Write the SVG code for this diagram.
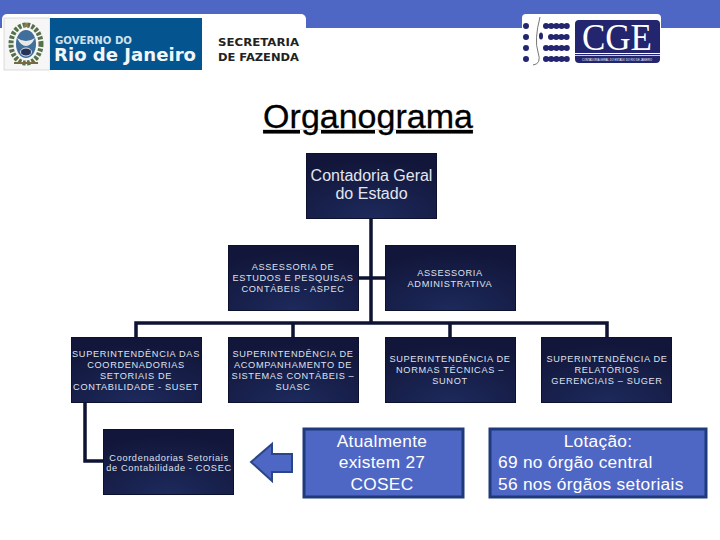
<svg xmlns="http://www.w3.org/2000/svg" width="720" height="540" viewBox="0 0 720 540">
<style>
text{font-family:"Liberation Sans",Arial,sans-serif;text-anchor:middle}
.n{fill:url(#ng);stroke:#0d1130;stroke-width:1}
.s{font-size:9.2px;fill:#dfe2ee;letter-spacing:.65px;font-weight:normal}
.m{font-size:16px;fill:#e4e6f0}
.b{fill:#4f67c4;stroke:#1f3a7c;stroke-width:3}
.w{font-size:17.3px;fill:#fff;letter-spacing:.3px}
.c{fill:none;stroke:#0e1233;stroke-width:3.5}
.d{fill:none;stroke:#23256e;stroke-width:6;stroke-linecap:round;stroke-dasharray:0 5.2}
.l{font-family:"DejaVu Sans",sans-serif;font-weight:bold;text-anchor:start}
</style>
<defs>
<radialGradient id="ng" cx=".5" cy="1" r=".9"><stop offset="0" stop-color="#1d2a5c"/><stop offset="1" stop-color="#12163a"/></radialGradient>
</defs>
<rect width="720" height="540" fill="#fff"/>
<rect id="banner" width="720" height="28" fill="#4f67c4"/>
<g id="logo-rj">
<rect x="2" y="14" width="304" height="58" rx="5" fill="#fff"/>
<rect x="4" y="18" width="46" height="52" fill="#f6f6f6" stroke="#bbb" stroke-width=".5"/>
<ellipse cx="26" cy="44" rx="15" ry="19" fill="none" stroke="#55704a" stroke-width="5" stroke-dasharray="3 1.500"/>
<ellipse cx="26" cy="44" rx="10" ry="14" fill="#3f6f9a"/>
<path d="M26 22l3 5h-6z" fill="#8a7a50"/>
<path d="M17 38Q26 44 35 38Q31 46 26 46T17 38Z" fill="#e8e8e8"/>
<ellipse cx="26" cy="52" rx="5.500" ry="4" fill="#25345c" stroke="#ddd" stroke-width="1"/>
<rect x="14" y="62" width="24" height="2" fill="#7a6a40"/>
<rect x="50" y="18" width="152" height="52" fill="#04548f"/>
<text class="l" x="55" y="43.500" font-size="10.500" fill="#cfe0ea" textLength="77" lengthAdjust="spacingAndGlyphs">GOVERNO DO</text>
<text class="l" x="54" y="60.500" font-size="17.500" fill="#f2f6f8" textLength="142" lengthAdjust="spacingAndGlyphs">Rio de Janeiro</text>
<text class="l" x="218" y="46" font-size="10.500" fill="#222" textLength="81" lengthAdjust="spacingAndGlyphs">SECRETARIA</text>
<text class="l" x="218" y="60.500" font-size="10.500" fill="#222" textLength="81" lengthAdjust="spacingAndGlyphs">DE FAZENDA</text>
</g>
<g id="logo-cge">
<rect x="522" y="14" width="139" height="50" rx="4" fill="#fff"/>
<path class="d" d="M526 26h5M526 37h5M526 48h5M526 59h5M546 26h22M551 37h17M546 48h22M546 59h22"/>
<ellipse cx="541" cy="36" rx="2" ry="3.500" fill="#23256e"/>
<rect x="575" y="20" width="85" height="43" rx="4" fill="#23256e"/>
<path d="M540 17Q534 40 538 52T533 65" fill="none" stroke="#777" stroke-width="1"/>
<text x="617" y="50" font-size="38" fill="#fff" style="font-family:'Liberation Serif',serif" textLength="70" lengthAdjust="spacingAndGlyphs">CGE</text>
<rect x="575" y="53" width="85" height="1" fill="#fff"/>
<rect x="575" y="55" width="85" height="1" fill="#ccd"/>
<text x="617" y="61" font-size="3.600" fill="#fff" textLength="70" lengthAdjust="spacingAndGlyphs">CONTADORIA GERAL DO ESTADO DO RIO DE JANEIRO</text>
</g>
<text id="title" x="368" y="128" font-size="34" fill="#000" stroke="#000" stroke-width=".3" text-decoration="underline">Organograma</text>
<g id="connectors">
<path class="c" d="M371 218V323M358 278H385M136 337V323H607V337M293 323V337M450 323V337M85 403V461H103"/>
</g>
<g id="contadoria"><rect class="n" x="306.500" y="153.500" width="130" height="65"/><text class="m" x="371.500" y="181">Contadoria Geral</text><text class="m" x="371.500" y="199">do Estado</text></g>
<g id="aspec"><rect class="n" x="228.500" y="245.500" width="130" height="65"/><text class="s" x="293" y="270">ASSESSORIA DE</text><text class="s" x="293" y="281">ESTUDOS E PESQUISAS</text><text class="s" x="293" y="292">CONTÁBEIS -  ASPEC</text></g>
<g id="admin"><rect class="n" x="385.500" y="245.500" width="130" height="65"/><text class="s" x="450" y="276">ASSESSORIA</text><text class="s" x="450" y="287">ADMINISTRATIVA</text></g>
<g id="suset"><rect class="n" x="71.500" y="337.500" width="130" height="65"/><text class="s" x="136" y="357">SUPERINTENDÊNCIA DAS</text><text class="s" x="136" y="368">COORDENADORIAS</text><text class="s" x="136" y="379">SETORIAIS DE</text><text class="s" x="136" y="390">CONTABILIDADE - SUSET</text></g>
<g id="suasc"><rect class="n" x="228.500" y="337.500" width="130" height="65"/><text class="s" x="293" y="357">SUPERINTENDÊNCIA DE</text><text class="s" x="293" y="368">ACOMPANHAMENTO DE</text><text class="s" x="293" y="379">SISTEMAS CONTÁBEIS –</text><text class="s" x="293" y="390">SUASC</text></g>
<g id="sunot"><rect class="n" x="385.500" y="337.500" width="130" height="65"/><text class="s" x="450" y="362">SUPERINTENDÊNCIA DE</text><text class="s" x="450" y="373">NORMAS TÉCNICAS –</text><text class="s" x="450" y="384">SUNOT</text></g>
<g id="suger"><rect class="n" x="541.500" y="337.500" width="130" height="65"/><text class="s" x="607" y="362">SUPERINTENDÊNCIA DE</text><text class="s" x="607" y="373">RELATÓRIOS</text><text class="s" x="607" y="384">GERENCIAIS – SUGER</text></g>
<g id="cosec"><rect class="n" x="103.500" y="429.500" width="130" height="65"/><text class="s" x="169" y="461">Coordenadorias Setoriais</text><text class="s" x="169" y="471">de Contabilidade - COSEC</text></g>
<g id="arrow"><path d="M251 462L272 444V454H292V472H272V481Z" fill="#4f67c4" stroke="#2b4688" stroke-width="2"/></g>
<g id="atualmente"><rect class="b" x="304" y="429" width="159" height="68"/><text class="w" x="382" y="447">Atualmente</text><text class="w" x="382" y="468">existem 27</text><text class="w" x="382" y="490">COSEC</text></g>
<g id="lotacao"><rect class="b" x="490" y="429" width="216" height="68"/><text class="w" x="598" y="447">Lotação:</text><text class="w" x="498" y="468" style="text-anchor:start">69 no órgão central</text><text class="w" x="498" y="490" style="text-anchor:start">56 nos órgãos setoriais</text></g>
</svg>
